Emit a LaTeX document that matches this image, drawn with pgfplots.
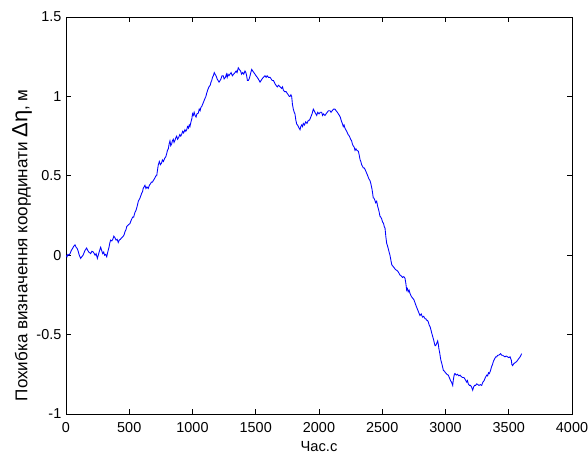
\documentclass[border=0pt]{standalone}
\usepackage{fontspec}
\setmainfont{Liberation Sans}
\usepackage{pgfplots}
\pgfplotsset{compat=1.18}
\begin{document}
\begin{tikzpicture}
\begin{axis}[
  scale only axis,
  width=379.5pt, height=297.75pt,
  xmin=0, xmax=4000, ymin=-1, ymax=1.5,
  xtick={0,500,...,4000},
  ytick={-1,-0.5,0,0.5,1,1.5},
  tick align=inside,
  major tick length=3.75pt,
  axis line style={line width=0.75pt},
  every tick/.style={black, line width=0.5pt},
  /pgf/number format/assume math mode=true,
  /pgf/number format/1000 sep={},
  ticklabel style={font=\fontsize{10.8}{12}\selectfont},
  xticklabel style={yshift=-2.5pt},
  xlabel={\fontsize{11}{12}\selectfont Час.с},
  ylabel={\fontsize{12.8}{13}\selectfont Похибка визначення координати {\fontsize{16.5}{16}\selectfont Δη}, м},
  xlabel style={yshift=0pt},
  ylabel style={at={(ticklabel cs:0.425)}, yshift=-3.5pt},
]
\addplot[blue, line width=0.65pt] coordinates {
(0,0) (8,-0.01) (15,0.005) (24,0.0) (32,0.01) (42,0.03) (50,0.04) (60,0.055) (71,0.065) (80,0.05) (90,0.04) (98,0.02) (105,0.0) (116,-0.02) (125,-0.01) (135,0.0) (150,0.03) (163,0.045) (172,0.03) (180,0.02) (195,0.01) (205,0.025) (216,0.02) (223,0.01) (230,0.0) (238,0.01) (248,-0.02) (255,0.0) (262,0.02) (274,0.05) (282,0.03) (290,0.01) (298,0.02) (305,0.0) (314,0.005) (322,-0.01)
(330,0.02) (340,0.05) (347,0.08) (353,0.095) (362,0.09) (370,0.1) (378,0.12) (387,0.11) (396,0.095) (405,0.1) (413,0.08) (421,0.095) (430,0.1) (440,0.11) (453,0.12) (460,0.13) (467,0.15) (474,0.16) (480,0.18) (492,0.19) (506,0.2) (515,0.22) (527,0.24) (535,0.24) (545,0.27) (552,0.28) (560,0.3) (566,0.32) (572,0.34) (585,0.36) (598,0.39) (605,0.4) (610,0.42) (617,0.43) (624,0.44) (632,0.42) (640,0.43) (650,0.42) (659,0.44) (668,0.45) (675,0.46) (683,0.46) (690,0.47) (698,0.48) (705,0.49) (711,0.5) (717,0.5) (724,0.54) (730,0.57) (738,0.59) (746,0.57) (755,0.58) (762,0.6) (770,0.59) (780,0.61) (789,0.62) (796,0.64) (802,0.66) (809,0.67) (815,0.7)
(822,0.72) (828,0.69) (835,0.7) (841,0.72) (848,0.73) (854,0.71) (860,0.72) (868,0.74) (875,0.75) (882,0.73) (890,0.74) (900,0.76) (907,0.75) (914,0.76) (922,0.78) (930,0.77) (940,0.79) (947,0.78) (954,0.79) (961,0.81) (968,0.8) (974,0.82) (980,0.81) (988,0.84) (995,0.86) (1000,0.89) (1006,0.88) (1013,0.9) (1020,0.88) (1028,0.87) (1035,0.89) (1046,0.895) (1053,0.92) (1060,0.91) (1066,0.93) (1072,0.935) (1080,0.95) (1090,0.97) (1100,0.99) (1106,1.0) (1112,1.02) (1120,1.04) (1130,1.06) (1140,1.07) (1146,1.09) (1152,1.10) (1158,1.12) (1165,1.13) (1172,1.15) (1178,1.14) (1186,1.13) (1195,1.11) (1202,1.1) (1210,1.09) (1218,1.1) (1225,1.11) (1233,1.13) (1243,1.13) (1250,1.11) (1260,1.12) (1268,1.14) (1274,1.12) (1280,1.14) (1288,1.13) (1296,1.14) (1305,1.15) (1315,1.13) (1325,1.14) (1336,1.15) (1345,1.16) (1352,1.15) (1362,1.18) (1370,1.17) (1380,1.16) (1388,1.14) (1397,1.15) (1405,1.14) (1415,1.16) (1422,1.15) (1428,1.13) (1434,1.1) (1441,1.10) (1448,1.11) (1455,1.13) (1461,1.15) (1468,1.17) (1476,1.16) (1485,1.15) (1494,1.14) (1502,1.13) (1512,1.12) (1520,1.11) (1527,1.1) (1534,1.09) (1542,1.1) (1550,1.11) (1560,1.12) (1573,1.13) (1582,1.12) (1590,1.13) (1600,1.12) (1613,1.12) (1622,1.11) (1630,1.1) (1640,1.1) (1652,1.08) (1660,1.07) (1670,1.06) (1680,1.07) (1692,1.06) (1705,1.05) (1712,1.06) (1718,1.04) (1728,1.03) (1740,1.03) (1748,1.02) (1757,1.01) (1765,1.0) (1771,1.0) (1778,1.01) (1784,1.0)
(1790,0.95) (1797,0.92) (1804,0.9) (1810,0.89) (1817,0.85) (1824,0.825) (1830,0.82) (1837,0.81) (1843,0.8) (1850,0.79) (1856,0.81) (1863,0.82) (1870,0.81) (1876,0.83) (1885,0.82) (1895,0.84) (1905,0.83) (1916,0.85) (1925,0.85) (1935,0.87) (1945,0.89) (1955,0.92) (1962,0.91) (1968,0.9) (1975,0.89) (1982,0.88) (1990,0.9) (2000,0.89) (2010,0.9) (2021,0.90) (2028,0.88) (2035,0.89) (2047,0.88) (2056,0.89) (2065,0.9) (2075,0.91) (2087,0.91) (2095,0.9) (2105,0.91) (2115,0.92) (2126,0.92) (2135,0.91) (2145,0.9) (2153,0.89) (2161,0.88) (2168,0.87) (2175,0.85) (2184,0.83) (2192,0.81) (2198,0.82) (2205,0.8) (2212,0.79) (2219,0.78) (2230,0.76) (2240,0.75) (2250,0.73) (2258,0.72) (2264,0.7) (2270,0.69) (2278,0.68) (2285,0.66) (2292,0.67) (2300,0.66) (2311,0.655) (2318,0.63) (2325,0.6) (2331,0.59) (2337,0.57) (2344,0.56) (2350,0.55) (2357,0.55) (2364,0.54) (2375,0.52) (2385,0.5) (2395,0.48) (2403,0.47) (2410,0.45) (2418,0.42) (2424,0.39) (2429,0.36) (2434,0.36) (2440,0.35) (2448,0.33) (2456,0.34) (2463,0.31) (2470,0.29) (2476,0.27) (2482,0.245) (2488,0.24) (2495,0.23) (2502,0.21) (2510,0.2) (2516,0.18) (2522,0.17) (2528,0.12) (2535,0.075) (2541,0.06) (2548,0.04) (2554,0.02) (2561,0.0) (2568,-0.03) (2575,-0.06) (2585,-0.07) (2595,-0.08) (2604,-0.09) (2614,-0.095) (2622,-0.1) (2630,-0.11) (2640,-0.125) (2650,-0.13) (2660,-0.14) (2670,-0.135) (2680,-0.145) (2687,-0.18) (2693,-0.22) (2699,-0.21) (2705,-0.23) (2712,-0.22) (2719,-0.24) (2730,-0.26) (2740,-0.27) (2750,-0.28) (2759,-0.30) (2768,-0.32) (2778,-0.34) (2788,-0.36) (2798,-0.38) (2808,-0.37) (2818,-0.39) (2828,-0.385) (2838,-0.40) (2845,-0.4) (2850,-0.41) (2857,-0.41) (2864,-0.42) (2871,-0.44) (2878,-0.45) (2885,-0.47) (2891,-0.49) (2898,-0.51) (2905,-0.53) (2911,-0.55) (2917,-0.57) (2922,-0.57) (2928,-0.56) (2933,-0.55) (2938,-0.54) (2943,-0.56) (2948,-0.59) (2953,-0.61) (2957,-0.63) (2963,-0.66) (2970,-0.68) (2976,-0.7) (2983,-0.725) (2991,-0.73) (3000,-0.74) (3011,-0.75) (3022,-0.755) (3030,-0.77) (3040,-0.79) (3048,-0.8) (3057,-0.82) (3061,-0.79) (3065,-0.77) (3070,-0.75) (3075,-0.745) (3085,-0.755) (3095,-0.75) (3105,-0.76) (3115,-0.755) (3125,-0.765) (3135,-0.77) (3145,-0.77) (3154,-0.78) (3161,-0.79) (3168,-0.8) (3174,-0.79) (3180,-0.81) (3189,-0.82) (3198,-0.82) (3206,-0.83) (3215,-0.85) (3222,-0.83) (3230,-0.82) (3238,-0.82) (3247,-0.81) (3256,-0.815) (3265,-0.82) (3275,-0.815) (3286,-0.82) (3295,-0.8) (3305,-0.79) (3315,-0.77) (3326,-0.755) (3333,-0.76) (3340,-0.74) (3346,-0.745) (3352,-0.735) (3358,-0.72) (3365,-0.7) (3371,-0.69) (3378,-0.67) (3384,-0.66) (3390,-0.65) (3397,-0.64) (3405,-0.64) (3412,-0.63) (3420,-0.63) (3428,-0.625) (3436,-0.62) (3444,-0.63) (3452,-0.63) (3460,-0.635) (3470,-0.64) (3480,-0.635) (3490,-0.64) (3500,-0.645) (3510,-0.64) (3515,-0.65) (3520,-0.66) (3525,-0.69) (3531,-0.695) (3538,-0.685) (3545,-0.68) (3553,-0.675) (3562,-0.67) (3571,-0.66) (3580,-0.65) (3590,-0.64) (3602,-0.62)
};
\end{axis}
\pgfresetboundingbox
\path (current axis.south west) +(-49.5pt,-30pt) coordinate (bl);
\path (current axis.north east) +(12pt,12.75pt) coordinate (tr);
\path[use as bounding box] (bl) rectangle (tr);
\end{tikzpicture}
\end{document}
